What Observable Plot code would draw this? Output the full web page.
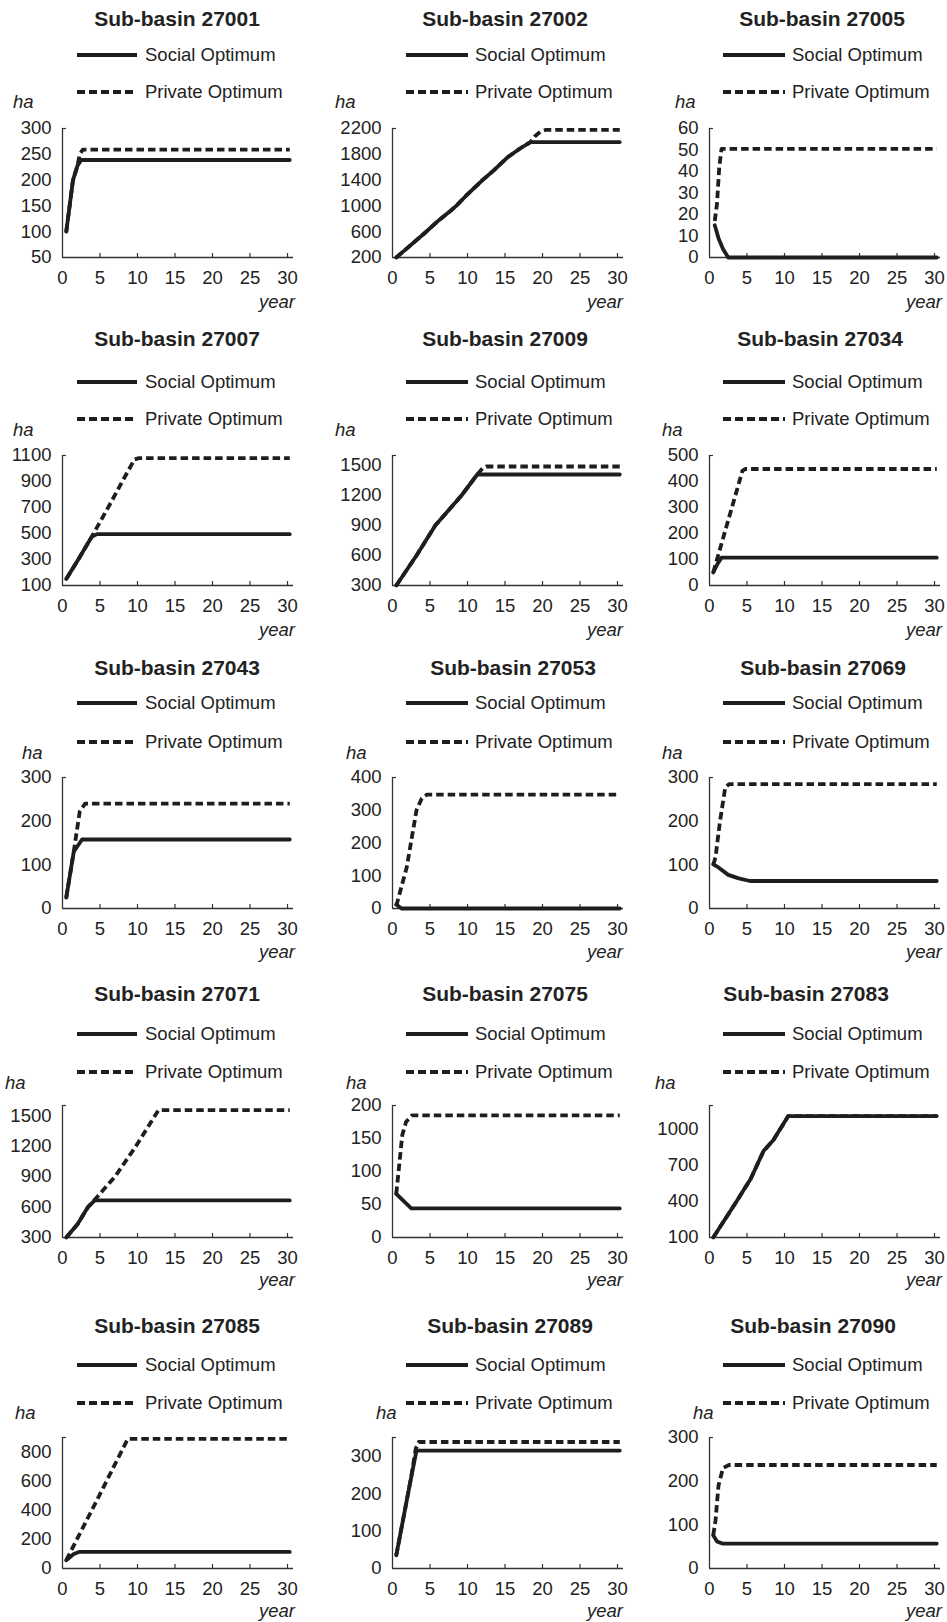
<!DOCTYPE html>
<html><head><meta charset="utf-8">
<script src="https://cdn.jsdelivr.net/npm/d3@7"></script>
<script src="https://cdn.jsdelivr.net/npm/@observablehq/plot@0.6"></script>
<style>
body{margin:0;background:#fff;}
#root{position:relative;width:947px;height:1622px;overflow:hidden;font-family:"Liberation Sans",Arial,sans-serif;color:#222;}
.t{position:absolute;font-weight:bold;font-size:21px;line-height:1;white-space:nowrap;transform:translate(-50%,-50%);}
.lg{position:absolute;font-size:18.5px;line-height:1;white-space:nowrap;transform:translateY(-50%);}
.ha{position:absolute;font-size:18.5px;line-height:1;font-style:italic;transform:translateY(-50%);}
.yr{position:absolute;font-size:18.5px;line-height:1;font-style:italic;transform:translate(-100%,-50%);}
svg.sw{position:absolute;overflow:visible;}
</style></head><body><div id="root"></div>
<script>
// ---- data ----
const basinIds = ["27001","27002","27005","27007","27009","27034","27043","27053","27069","27071","27075","27083","27085","27089","27090"];
const seriesNames = ["Social Optimum","Private Optimum"];
const xTicks = [0,5,10,15,20,25,30];
const yMin = [50,200,0, 100,300,0, 0,0,0, 300,0,100, 0,0,0];
const yMax = [300,2200,60, 1100,1600,500, 300,400,300, 1600,200,1200, 900,350,300];
const yTicks = [
  [50,100,150,200,250,300],
  [200,600,1000,1400,1800,2200],
  [0,10,20,30,40,50,60],
  [100,300,500,700,900,1100],
  [300,600,900,1200,1500],
  [0,100,200,300,400,500],
  [0,100,200,300],
  [0,100,200,300,400],
  [0,100,200,300],
  [300,600,900,1200,1500],
  [0,50,100,150,200],
  [100,400,700,1000],
  [0,200,400,600,800],
  [0,100,200,300],
  [0,100,200,300]
];
// [year, ha] points
const socialPath = [
  [[0.5,100],[1.4,200],[2.0,228],[2.5,239],[30.3,239]],
  [[0.5,200],[2,350],[4.5,600],[6,760],[7.5,900],[8.5,1000],[10,1180],[12,1400],[13.5,1550],[15.3,1750],[17,1890],[18.4,1990],[30.3,1990]],
  [[0.7,15],[1.2,9],[1.8,4],[2.5,0],[30.3,0]],
  [[0.5,150],[2,290],[3.9,475],[4.6,495],[30.3,495]],
  [[0.5,300],[3.2,600],[5.7,900],[9.2,1200],[11.3,1410],[30.3,1410]],
  [[0.5,50],[1.0,80],[1.6,107],[30.3,107]],
  [[0.5,25],[1.5,130],[2.6,158],[30.3,158]],
  [[0.5,12],[1.2,0],[30.3,0]],
  [[0.5,101],[1.2,94],[2.5,77],[3.9,69],[5.4,63],[30.3,63]],
  [[0.5,300],[2,430],[3.4,600],[4.3,665],[30.3,665]],
  [[0.5,66],[2.5,44],[30.3,44]],
  [[0.5,100],[3.6,400],[5.5,590],[7.2,820],[8.5,910],[10.5,1112],[30.3,1112]],
  [[0.5,57],[1.5,100],[2.2,114],[30.3,114]],
  [[0.5,35],[1.5,140],[2.5,245],[3.2,315],[30.3,315]],
  [[0.5,76],[1.0,62],[1.7,57],[30.3,57]]
];
const privatePath = [
  [[0.5,100],[1.4,200],[2.0,228],[2.3,250],[2.7,259],[30.3,259]],
  [[0.5,200],[2,350],[4.5,600],[6,760],[7.5,900],[8.5,1000],[10,1180],[12,1400],[13.5,1550],[15.3,1750],[17,1890],[18.4,1990],[19,2080],[19.7,2150],[20.5,2180],[30.3,2180]],
  [[0.7,17],[1.0,25],[1.3,42],[1.6,50.5],[30.3,50.5]],
  [[0.5,150],[2,290],[3.9,475],[6.4,733],[8.1,914],[9.6,1070],[10.2,1080],[30.3,1080]],
  [[0.5,300],[3.2,600],[5.7,900],[9.2,1200],[11.3,1410],[12.0,1470],[12.5,1490],[30.3,1490]],
  [[0.5,50],[4.4,442],[4.8,448],[30.3,448]],
  [[0.5,25],[1.5,130],[1.8,165],[2.3,222],[3.0,240],[30.3,240]],
  [[0.5,8],[1.9,126],[3.2,300],[3.9,336],[4.6,348],[30.3,348]],
  [[0.5,100],[0.8,117],[1.4,200],[2.1,277],[2.6,285],[30.3,285]],
  [[0.5,300],[2,430],[3.4,600],[4.5,690],[7,900],[9.8,1200],[12.8,1555],[30.3,1555]],
  [[0.5,66],[0.9,110],[1.3,155],[1.8,175],[2.6,185],[30.3,185]],
  [[0.5,100],[3.6,400],[5.5,590],[7.2,820],[8.5,910],[10.5,1112],[30.3,1112]],
  [[0.5,57],[4.5,460],[8.7,890],[30.3,890]],
  [[0.5,35],[2.5,245],[3.1,320],[3.5,338],[30.3,338]],
  [[0.5,76],[0.8,110],[1.2,190],[1.8,230],[2.6,237],[30.3,237]]
];

// ---- layout ----
const colAxisX = [62, 392, 709];
const rowTop = [128, 455, 777, 1105, 1437];
const rowBottom = [257, 585, 908, 1237, 1568];
const titleX = [177,505,822, 177,505,820, 177,513,823, 177,505,806, 177,510,813];
const titleY = [18, 338, 667, 993, 1325];
const legY1 = [55, 382, 703, 1034, 1365];
const legY2 = [92, 419, 742, 1072, 1403];
const legLine = [[77,137],[406,468],[723,785]];
const legText = [145, 475, 792];
const haX = [13,335,675, 13,335,662, 22,346,662, 5,346,655, 15,376,693];
const haY = [102, 430, 753, 1083, 1413];
const yearRight = [295, 623, 942];
const yearY = [302, 630, 952, 1280, 1611];
const xMaxDomain = 30.8, pxPerYear = 7.5;
const ink = "#1e1e1e";

const root = document.getElementById("root");
function addDiv(cls, text, left, top) {
  const d = document.createElement("div");
  d.className = cls; d.textContent = text;
  d.style.left = left + "px"; d.style.top = top + "px";
  root.appendChild(d);
}
function addSwatch(x1, x2, y, dashed) {
  const ns = "http://www.w3.org/2000/svg";
  const s = document.createElementNS(ns, "svg");
  s.setAttribute("class", "sw");
  s.setAttribute("width", x2 - x1); s.setAttribute("height", 8);
  s.style.left = x1 + "px"; s.style.top = (y - 4) + "px";
  const l = document.createElementNS(ns, "line");
  l.setAttribute("x1", 0); l.setAttribute("x2", x2 - x1);
  l.setAttribute("y1", 4); l.setAttribute("y2", 4);
  l.setAttribute("stroke", ink); l.setAttribute("stroke-width", 3.8);
  if (dashed) l.setAttribute("stroke-dasharray", "8,4");
  s.appendChild(l);
  root.appendChild(s);
}

basinIds.forEach((id, i) => {
  const col = i % 3, row = Math.floor(i / 3);
  const axX = colAxisX[col];
  const top = rowTop[row], bot = rowBottom[row];
  const plotH = bot - top;
  const plotW = xMaxDomain * pxPerYear;
  const mL = 60, mR = 14, mT = 10, mB = 36;
  const soc = socialPath[i].map(([x, y]) => ({x, y}));
  const pri = privatePath[i].map(([x, y]) => ({x, y}));
  const chart = Plot.plot({
    width: mL + plotW + mR,
    height: mT + plotH + mB,
    marginLeft: mL, marginRight: mR, marginTop: mT, marginBottom: mB,
    style: {fontFamily: '"Liberation Sans", Arial, sans-serif', fontSize: "18.5px", color: "#222", background: "transparent", overflow: "visible"},
    x: {domain: [0, xMaxDomain], ticks: xTicks, tickSize: 0, tickPadding: 13, label: null, tickFormat: d => String(d)},
    y: {domain: [yMin[i], yMax[i]], ticks: yTicks[i], tickSize: 0, tickPadding: 11, label: null, tickFormat: d => String(d)},
    marks: [
      Plot.tickX(xTicks.filter(d => d > 0), {x: d => d, insetTop: plotH - 4, stroke: "#333", strokeWidth: 1.2}),
      Plot.tickY([yMax[i]], {y: d => d, insetRight: plotW - 4, stroke: "#333", strokeWidth: 1.2}),
      Plot.ruleX([0], {stroke: "#333", strokeWidth: 1.3}),
      Plot.ruleY([yMin[i]], {stroke: "#333", strokeWidth: 1.3}),
      Plot.line(pri, {x: "x", y: "y", stroke: ink, strokeWidth: 3.8, strokeDasharray: "7.5,4", strokeLinecap: "butt"}),
      Plot.line(soc, {x: "x", y: "y", stroke: ink, strokeWidth: 3.8})
    ]
  });
  chart.style.position = "absolute";
  chart.style.left = (axX - mL) + "px";
  chart.style.top = (top - mT) + "px";
  root.appendChild(chart);

  addDiv("t", "Sub-basin " + id, titleX[i], titleY[row]);
  addSwatch(legLine[col][0], legLine[col][1], legY1[row], false);
  addDiv("lg", seriesNames[0], legText[col], legY1[row]);
  addSwatch(legLine[col][0], legLine[col][1], legY2[row], true);
  addDiv("lg", seriesNames[1], legText[col], legY2[row]);
  addDiv("ha", "ha", haX[i], haY[row]);
  addDiv("yr", "year", yearRight[col], yearY[row]);
});
</script>
</body></html>
